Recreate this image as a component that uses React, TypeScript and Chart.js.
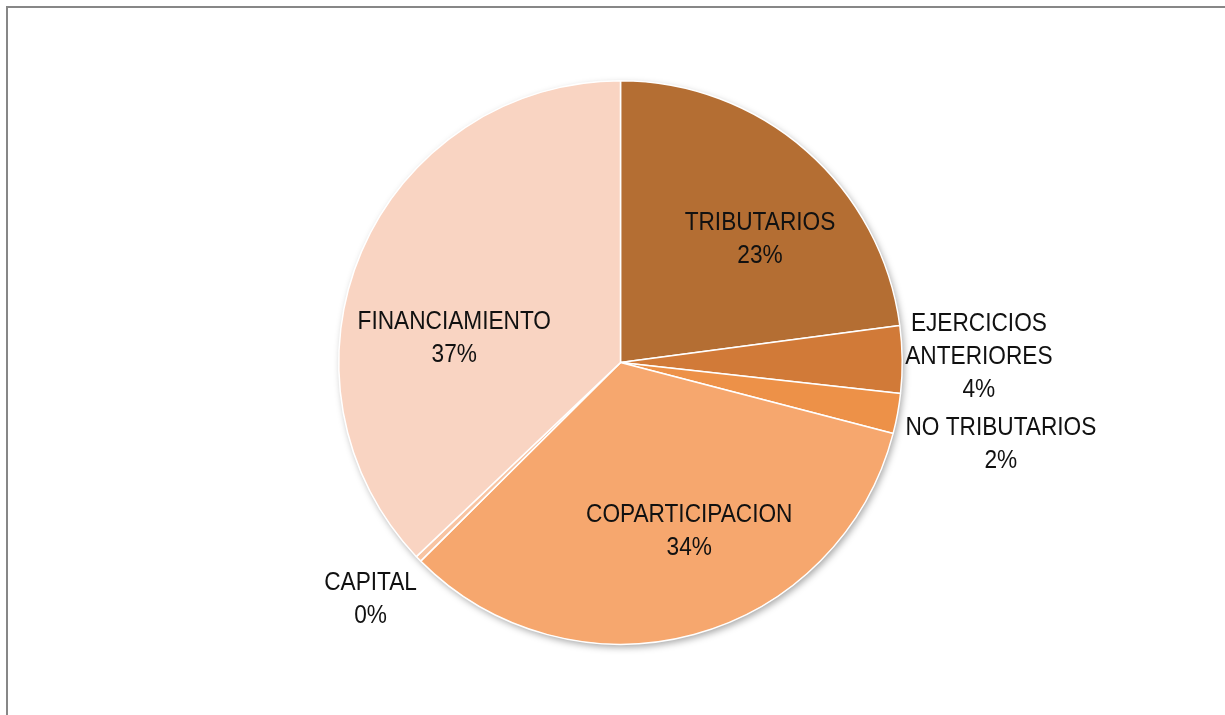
import React, { useEffect, useRef } from "react";
import { Chart, registerables } from "chart.js";

Chart.register(...registerables);

const categories = [
  "TRIBUTARIOS",
  "EJERCICIOS ANTERIORES",
  "NO TRIBUTARIOS",
  "COPARTICIPACION",
  "CAPITAL",
  "FINANCIAMIENTO",
];
const values = [22.9, 3.85, 2.3, 33.5, 0.35, 37.1];
const labelLines = [
  ["TRIBUTARIOS"],
  ["EJERCICIOS", "ANTERIORES"],
  ["NO TRIBUTARIOS"],
  ["COPARTICIPACION"],
  ["CAPITAL"],
  ["FINANCIAMIENTO"],
];
const colors = ["#B46E33", "#D17A38", "#ED9148", "#F6A76E", "#F8C4A2", "#F9D4C2"];
// label anchor relative to pie centre, in units of radius (layout only)
const labelOffsets = [
  [0.495, -0.438],
  [1.272, -0.021],
  [1.35, 0.29],
  [0.244, 0.597],
  [-0.887, 0.841],
  [-0.59, -0.088],
];

const FONT = '26.5px "Liberation Sans Narrow", "Arial Narrow", "Liberation Sans", Arial, sans-serif';
const X_SCALE = 0.855;
const LINE_H = 33;

const shadowPlugin = {
  id: "pieShadow",
  beforeDatasetsDraw(chart: any) {
    const arc = chart.getDatasetMeta(0).data[0];
    if (!arc) return;
    const { x, y, outerRadius } = arc.getProps(["x", "y", "outerRadius"], true);
    const ctx = chart.ctx;
    ctx.save();
    ctx.shadowColor = "rgba(0,0,0,0.35)";
    ctx.shadowBlur = 7;
    ctx.shadowOffsetX = 2;
    ctx.shadowOffsetY = 3;
    ctx.beginPath();
    ctx.arc(x, y, outerRadius, 0, Math.PI * 2);
    ctx.fillStyle = "#ffffff";
    ctx.fill();
    ctx.restore();
  },
};

const labelPlugin = {
  id: "pieLabels",
  afterDatasetsDraw(chart: any) {
    const meta = chart.getDatasetMeta(0);
    const ctx = chart.ctx;
    const total = values.reduce((a, b) => a + b, 0);
    meta.data.forEach((arc: any, i: number) => {
      const { x, y, outerRadius } = arc.getProps(["x", "y", "outerRadius"], true);
      const lines = [...labelLines[i], Math.round((values[i] / total) * 100) + "%"];
      const cx = x + labelOffsets[i][0] * outerRadius;
      const cy = y + labelOffsets[i][1] * outerRadius;
      const startY = cy - ((lines.length - 1) * LINE_H) / 2;
      lines.forEach((t, k) => {
        ctx.save();
        ctx.font = FONT;
        ctx.fillStyle = "#111111";
        ctx.textAlign = "center";
        ctx.textBaseline = "middle";
        ctx.translate(cx, startY + k * LINE_H);
        ctx.scale(X_SCALE, 1);
        ctx.fillText(t, 0, 0);
        ctx.restore();
      });
    });
  },
};

export default function App() {
  const ref = useRef<HTMLCanvasElement | null>(null);
  useEffect(() => {
    if (!ref.current) return;
    const chart = new Chart(ref.current, {
      type: "pie",
      data: {
        labels: categories,
        datasets: [
          {
            data: values,
            backgroundColor: colors,
            borderColor: "#ffffff",
            borderWidth: 1.5,
          },
        ],
      },
      options: {
        responsive: false,
        animation: false,
        layout: { padding: { top: 80, bottom: 70, left: 338, right: 322 } },
        plugins: {
          legend: { display: false },
          tooltip: { enabled: false },
        },
      },
      plugins: [shadowPlugin, labelPlugin],
    });
    return () => chart.destroy();
  }, []);

  return (
    <div style={{ position: "fixed", left: 0, top: 0, width: 1225, height: 715, overflow: "hidden", background: "#fff" }}>
      <div
        style={{
          position: "absolute",
          left: 6,
          top: 6,
          width: 1260,
          height: 760,
          border: "2px solid #878787",
          boxSizing: "border-box",
        }}
      />
      <canvas ref={ref} width={1225} height={715} style={{ position: "absolute", left: 0, top: 0, width: 1225, height: 715 }} />
    </div>
  );
}
